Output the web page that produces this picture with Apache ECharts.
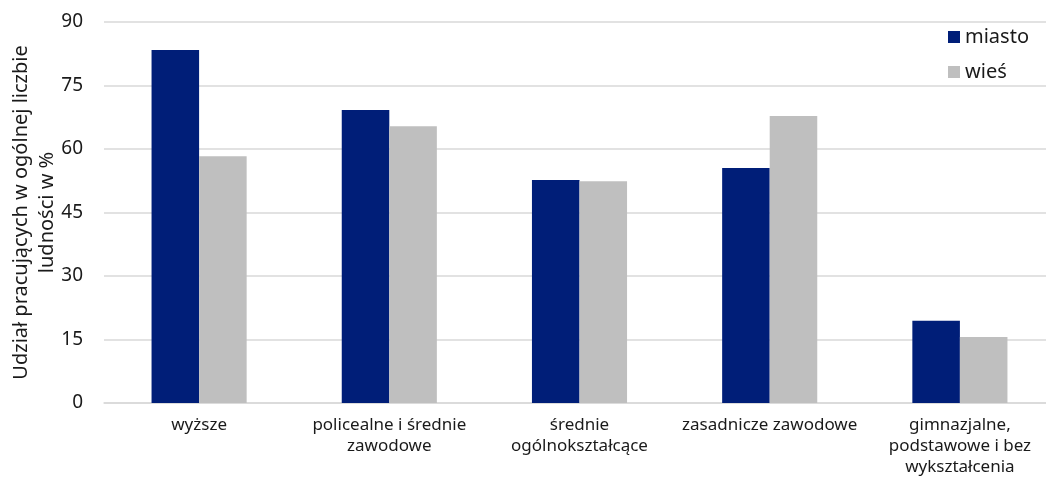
<!DOCTYPE html>
<html><head><meta charset="utf-8">
<script src="https://cdn.jsdelivr.net/npm/echarts@6/dist/echarts.min.js"></script>
<style>html,body{margin:0;padding:0;background:#fff}#c{width:1046px;height:479px}</style>
</head><body><div id="c"></div>
<script>
const categories = ['wyższe', 'policealne i średnie\nzawodowe', 'średnie\nogólnokształcące', 'zasadnicze zawodowe', 'gimnazjalne,\npodstawowe i bez\nwykształcenia'];
const miasto = [83.4, 69.2, 52.7, 55.5, 19.4];
const wies = [58.3, 65.4, 52.4, 67.8, 15.6];
const yTicks = {min: 0, max: 90, interval: 15};
const font = '"Noto Sans", "Open Sans", sans-serif';
const chart = echarts.init(document.getElementById('c'), null, {renderer: 'canvas'});
chart.setOption({
  animation: false,
  textStyle: {fontFamily: font},
  grid: {left: 104, right: -9, top: 22, bottom: 76, containLabel: false, outerBoundsMode: 'none'},
  legend: {
    orient: 'vertical', left: 943, top: 22,
    itemWidth: 12, itemHeight: 12, itemGap: 15,
    icon: 'rect',
    textStyle: {fontSize: 20, color: '#1a1a1a', fontFamily: font},
    data: ['miasto', 'wieś']
  },
  xAxis: {
    type: 'category', data: categories,
    axisLine: {lineStyle: {color: '#d9d9d9', width: 1.5}},
    axisTick: {show: false},
    axisLabel: {fontSize: 17, color: '#1a1a1a', margin: 12, lineHeight: 21, interval: 0, fontFamily: font}
  },
  yAxis: {
    type: 'value', min: yTicks.min, max: yTicks.max, interval: yTicks.interval,
    name: 'Udział pracujących w ogólnej liczbie\nludności w %',
    nameLocation: 'middle', nameGap: 44, nameRotate: 90, nameMoveOverlap: false,
    nameTextStyle: {fontSize: 20, color: '#1a1a1a', lineHeight: 26, fontFamily: font},
    axisLine: {show: false}, axisTick: {show: false},
    axisLabel: {fontSize: 19, color: '#1a1a1a', margin: 21, fontFamily: font},
    splitLine: {lineStyle: {color: '#d9d9d9', width: 1.5}}
  },
  series: [
    {name: 'miasto', type: 'bar', data: miasto, barGap: '0%', barCategoryGap: '50%', itemStyle: {color: '#001e78'}},
    {name: 'wieś', type: 'bar', data: wies, barGap: '0%', barCategoryGap: '50%', itemStyle: {color: '#bfbfbf'}}
  ]
});
</script></body></html>
